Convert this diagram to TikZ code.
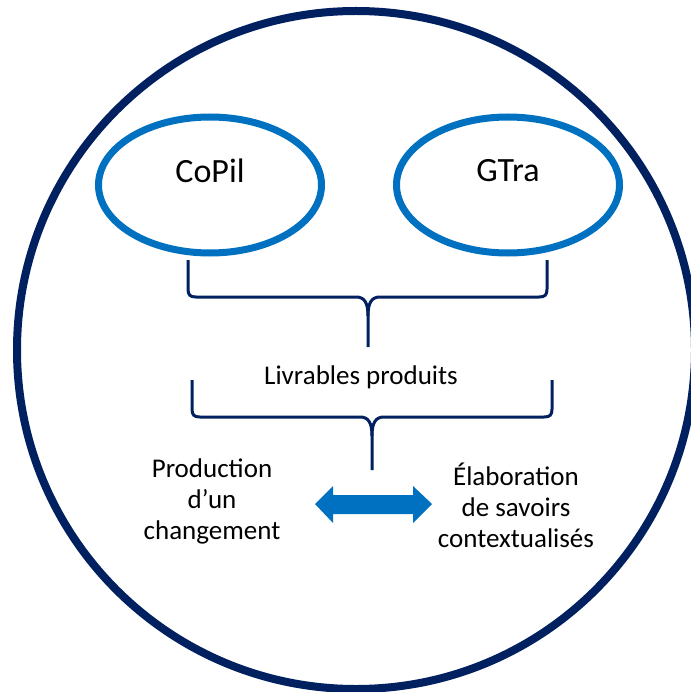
\documentclass[tikz,border=0pt]{standalone}
\usepackage{fontspec}
\setmainfont{Carlito}
\usetikzlibrary{shapes.geometric}
\definecolor{navy}{HTML}{002060}
\definecolor{midblue}{HTML}{0070C0}
\tikzset{
  oval/.style={ellipse, draw=midblue, line width=7pt, minimum width=223pt, minimum height=136pt, inner sep=0pt},
  bigtxt/.style={font=\fontsize{34}{40}\selectfont, text=black, inner sep=0pt},
  txt/.style={font=\fontsize{27}{31}\selectfont, text=black, inner sep=0pt, align=center},
  bracket/.style={draw=navy, line width=3pt, line join=round},
}
\begin{document}
\begin{tikzpicture}[x=1pt,y=-1pt]
\useasboundingbox (0,0) rectangle (690,692);
\draw[navy, line width=8pt] (356,350) circle[radius=339];
\node[oval] (copil) at (210,185) {};
\node[oval] (gtra) at (508,185) {};
\node[bigtxt] (copilt) at (210,171) {CoPil};
\node[bigtxt] (gtrat) at (508,171) {GTra};
% upper brace
\draw[bracket] (188,260) -- (188,289) .. controls (188,295) and (190,297) .. (196,297)
  -- (356,297) .. controls (364,297) and (368,302) .. (368,316) -- (368,347);
\draw[bracket] (547,260) -- (547,289) .. controls (547,295) and (545,297) .. (539,297)
  -- (380,297) .. controls (372,297) and (368,302) .. (368,316);
\node[txt] (livr) at (361,377) {Livrables produits};
% lower brace
\draw[bracket] (192,380) -- (192,409) .. controls (192,415) and (194,417) .. (200,417)
  -- (360,417) .. controls (368,417) and (372,422) .. (372,436) -- (372,470);
\draw[bracket] (552,380) -- (552,409) .. controls (552,415) and (550,417) .. (544,417)
  -- (384,417) .. controls (376,417) and (372,422) .. (372,436);
\node[txt] (prod) at (212,501) {Production\\d’un\\changement};
\node[txt] (elab) at (516,505) {Élaboration\\de savoirs\\contextualisés};
% double arrow
\fill[midblue] (315,504) -- (333,486) -- (333,495) -- (413,495) -- (413,486) -- (432,504)
  -- (413,523) -- (413,514) -- (333,514) -- (333,523) -- cycle;
\end{tikzpicture}
\end{document}
